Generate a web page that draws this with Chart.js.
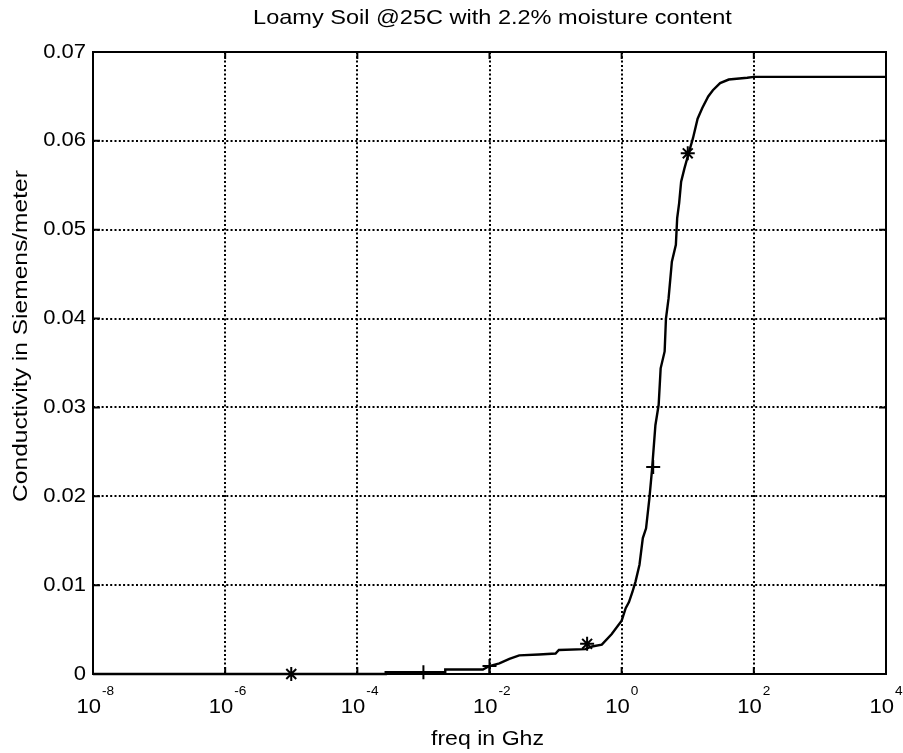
<!DOCTYPE html>
<html>
<head>
<meta charset="utf-8">
<script src="https://cdn.jsdelivr.net/npm/chart.js@4/dist/chart.umd.min.js"></script>
<style>
  html, body { margin: 0; padding: 0; background: #fff; }
  #wrap { width: 903px; height: 753px; position: relative; }
</style>
</head>
<body>
<div id="wrap"><canvas id="c" width="903" height="753"></canvas></div>
<script>
// Conductivity of loamy soil vs. frequency (GHz), measured curve
const freqGHz = [
  1e-8, 1e-5, 2.69e-4, 2.69e-4, 2.14e-3, 2.14e-3, 7.94e-3, 1e-2, 1.41e-2, 2.0e-2,
  2.82e-2, 5.62e-2, 0.1, 0.112, 0.282, 0.355, 0.501, 0.708, 1.0, 1.15,
  1.29, 1.45, 1.62, 1.86, 2.09, 2.34, 2.63, 2.88, 3.24, 3.63,
  3.89, 4.47, 4.68, 5.13, 5.75, 6.61, 6.92, 7.41, 7.94, 8.91,
  10.5, 12.0, 14.1, 16.6, 20.4, 24.0, 30.9, 41.7, 79.4, 100,
  1e4
];
const conductivity = [
  0, 0, 0, 0.0002, 0.0002, 0.0005, 0.0005, 0.0009, 0.0012, 0.0017,
  0.0021, 0.0022, 0.0023, 0.0027, 0.0028, 0.0031, 0.0033, 0.0045, 0.0060, 0.0074,
  0.0081, 0.0092, 0.0104, 0.0123, 0.0153, 0.0164, 0.0198, 0.0230, 0.0280, 0.0303,
  0.0344, 0.0363, 0.0400, 0.0423, 0.0464, 0.0483, 0.0513, 0.0530, 0.0554, 0.0569,
  0.0588, 0.0603, 0.0625, 0.0637, 0.0650, 0.0657, 0.0665, 0.0669, 0.0671, 0.0672,
  0.0672
];

// Sample markers along the curve
const markerFreq = [1e-5, 1e-3, 1e-2, 0.3, 3, 10];
const markerCond = [0, 0.0002, 0.0009, 0.0034, 0.0233, 0.0586];
const markerStyle = ['star', 'cross', 'cross', 'star', 'cross', 'star'];

// Axis ticks
const xTickValues = [1e-8, 1e-6, 1e-4, 1e-2, 1, 1e2, 1e4];
const xTickExponents = ['-8', '-6', '-4', '-2', '0', '2', '4'];
const yTickValues = [0, 0.01, 0.02, 0.03, 0.04, 0.05, 0.06, 0.07];
const yTickLabels = ['0', '0.01', '0.02', '0.03', '0.04', '0.05', '0.06', '0.07'];

const titleText = 'Loamy Soil @25C with 2.2% moisture content';
const xTitle = 'freq in Ghz';
const yTitle = 'Conductivity in Siemens/meter';

const FONT = '"Liberation Sans", Arial, Helvetica, sans-serif';

// text drawn with a slight horizontal widening (Helvetica print look)
function wideText(ctx, text, x, y, size, sx, align, rot) {
  ctx.save();
  ctx.translate(x, y);
  if (rot) ctx.rotate(rot);
  ctx.scale(sx, 1);
  ctx.font = size + 'px ' + FONT;
  ctx.textAlign = align;
  ctx.fillText(text, 0, 0);
  ctx.restore();
}
function wideWidth(ctx, text, size, sx) {
  ctx.save();
  ctx.font = size + 'px ' + FONT;
  const w = ctx.measureText(text).width * sx;
  ctx.restore();
  return w;
}

const framePlugin = {
  id: 'matlabFrame',
  beforeDatasetsDraw(chart) {
    const { ctx, chartArea: a, scales } = chart;
    ctx.save();
    ctx.setLineDash([]);
    ctx.strokeStyle = '#000';
    ctx.lineWidth = 2;
    ctx.strokeRect(a.left, a.top, a.right - a.left, a.bottom - a.top);
    // inward tick marks on all four sides
    const tl = 7;
    ctx.lineWidth = 2;
    ctx.beginPath();
    xTickValues.forEach(v => {
      const px = scales.x.getPixelForValue(v);
      ctx.moveTo(px, a.bottom); ctx.lineTo(px, a.bottom - tl);
      ctx.moveTo(px, a.top); ctx.lineTo(px, a.top + tl);
    });
    yTickValues.forEach(v => {
      const py = scales.y.getPixelForValue(v);
      ctx.moveTo(a.left, py); ctx.lineTo(a.left + tl, py);
      ctx.moveTo(a.right, py); ctx.lineTo(a.right - tl, py);
    });
    ctx.stroke();
    ctx.restore();
  },
  afterDraw(chart) {
    const { ctx, chartArea: a, scales } = chart;
    ctx.save();
    ctx.fillStyle = '#000';
    ctx.textBaseline = 'alphabetic';
    const cx = (a.left + a.right) / 2;

    // title
    wideText(ctx, titleText, cx + 3, 24, 21, 1.12, 'center');

    // y tick labels
    ctx.textBaseline = 'middle';
    yTickValues.forEach((v, i) => {
      wideText(ctx, yTickLabels[i], a.left - 7, scales.y.getPixelForValue(v), 20, 1.1, 'right');
    });
    ctx.textBaseline = 'alphabetic';

    // x tick labels: base 10 with superscript exponent
    xTickValues.forEach((v, i) => {
      const px = scales.x.getPixelForValue(v);
      const wb = wideWidth(ctx, '10', 21, 1.05);
      wideText(ctx, '10', px + 8 - wb, a.bottom + 39, 21, 1.05, 'left');
      wideText(ctx, xTickExponents[i], px + 9, a.bottom + 21, 13, 1.05, 'left');
    });

    // axis titles
    wideText(ctx, xTitle, cx - 2, 745, 21, 1.1, 'center');
    wideText(ctx, yTitle, 27, 336, 21, 1.17, 'center', -Math.PI / 2);
    ctx.restore();
  }
};

new Chart(document.getElementById('c'), {
  type: 'line',
  data: {
    datasets: [
      {
        label: 'conductivity',
        data: freqGHz.map((f, i) => ({ x: f, y: conductivity[i] })),
        borderColor: '#000',
        borderWidth: 2.4,
        pointRadius: 0,
        tension: 0,
        fill: false,
        clip: 4
      },
      {
        label: 'samples',
        type: 'scatter',
        data: markerFreq.map((f, i) => ({ x: f, y: markerCond[i] })),
        pointStyle: markerStyle,
        pointRadius: 7,
        pointBorderWidth: 2,
        borderColor: '#000',
        backgroundColor: '#000',
        showLine: false,
        clip: false
      }
    ]
  },
  options: {
    responsive: false,
    animation: false,
    devicePixelRatio: 1,
    layout: { padding: { left: 93, right: 17, top: 52, bottom: 79 } },
    plugins: {
      legend: { display: false },
      title: { display: false },
      tooltip: { enabled: false }
    },
    scales: {
      x: {
        type: 'logarithmic',
        min: 1e-8,
        max: 1e4,
        afterBuildTicks(scale) {
          scale.ticks = xTickValues.map(v => ({ value: v }));
        },
        ticks: { display: false },
        grid: { color: '#000', lineWidth: 2, drawTicks: false },
        border: { display: false, dash: [2, 2.3] }
      },
      y: {
        type: 'linear',
        min: 0,
        max: 0.07,
        afterBuildTicks(scale) {
          scale.ticks = yTickValues.map(v => ({ value: v }));
        },
        ticks: { display: false },
        grid: { color: '#000', lineWidth: 2, drawTicks: false },
        border: { display: false, dash: [2, 2.3] }
      }
    }
  },
  plugins: [framePlugin]
});
</script>
</body>
</html>
